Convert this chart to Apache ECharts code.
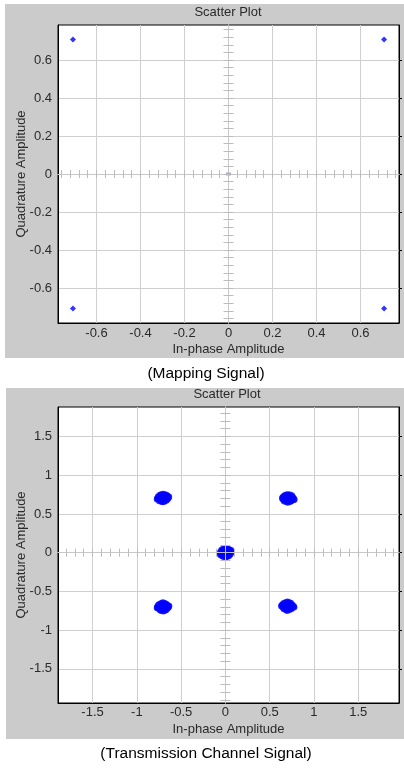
<!DOCTYPE html>
<html><head><meta charset="utf-8">
<script src="https://cdn.jsdelivr.net/npm/echarts@6/dist/echarts.min.js"></script>
<style>html,body{margin:0;padding:0;background:#fff}#c{width:404px;height:768px}</style>
</head><body><div id="c"></div>
<script>
// ---------- texts ----------
const chartTitle = 'Scatter Plot';
const xName = 'In-phase Amplitude';
const yName = 'Quadrature Amplitude';
const captions = ['(Mapping Signal)', '(Transmission Channel Signal)'];

// ---------- top: mapping signal ----------
const mapI = [-0.7071, 0.7071, -0.7071, 0.7071];
const mapQ = [0.7071, 0.7071, -0.7071, -0.7071];
const mapOriginI = [0];
const mapOriginQ = [0];
const mapTicks = [-0.6, -0.4, -0.2, 0, 0.2, 0.4, 0.6];
const mapXRange = [-0.775, 0.775];
const mapYRange = [-0.784, 0.784];
const mapMinorStep = 0.04;

// ---------- bottom: transmission channel signal ----------
const chTicks = [-1.5, -1, -0.5, 0, 0.5, 1, 1.5];
const chXRange = [-1.89, 1.96];
const chYRange = [-1.94, 1.88];
const chMinorStep = 0.1;

const clusterTL = [[-0.705,0.706],[-0.675,0.716],[-0.735,0.718],[-0.695,0.738],[-0.712,0.676],[-0.652,0.728],[-0.758,0.724],[-0.656,0.686],[-0.752,0.688],[-0.684,0.752],[-0.726,0.750],[-0.688,0.662],[-0.722,0.660],[-0.642,0.706],[-0.768,0.702],[-0.668,0.672],[-0.742,0.742],[-0.664,0.744],[-0.746,0.668],[-0.704,0.758],[-0.708,0.654],[-0.638,0.722],[-0.772,0.690]];
const clusterTR = [[0.707,0.700],[0.737,0.708],[0.677,0.712],[0.715,0.732],[0.697,0.670],[0.760,0.718],[0.655,0.722],[0.762,0.680],[0.654,0.684],[0.728,0.746],[0.686,0.748],[0.730,0.656],[0.690,0.656],[0.774,0.696],[0.642,0.700],[0.744,0.666],[0.668,0.738],[0.750,0.738],[0.664,0.664],[0.706,0.752],[0.704,0.648],[0.778,0.684],[0.646,0.712]];
const clusterBL = [[-0.705,-0.700],[-0.673,-0.694],[-0.737,-0.690],[-0.700,-0.668],[-0.710,-0.732],[-0.654,-0.680],[-0.758,-0.676],[-0.652,-0.718],[-0.756,-0.716],[-0.686,-0.652],[-0.724,-0.654],[-0.682,-0.746],[-0.726,-0.748],[-0.640,-0.700],[-0.770,-0.702],[-0.666,-0.736],[-0.744,-0.664],[-0.668,-0.662],[-0.742,-0.738],[-0.706,-0.644],[-0.702,-0.756],[-0.636,-0.688],[-0.772,-0.714]];
const clusterBR = [[0.700,-0.690],[0.732,-0.682],[0.668,-0.684],[0.708,-0.658],[0.694,-0.722],[0.754,-0.672],[0.648,-0.668],[0.756,-0.708],[0.650,-0.706],[0.718,-0.642],[0.680,-0.644],[0.722,-0.736],[0.682,-0.738],[0.770,-0.690],[0.632,-0.692],[0.744,-0.726],[0.658,-0.654],[0.738,-0.650],[0.660,-0.728],[0.700,-0.634],[0.698,-0.748],[0.776,-0.704],[0.636,-0.678]];
const clusterC = [[0.003,0.000],[0.033,0.010],[-0.027,0.012],[0.010,0.034],[-0.006,-0.032],[0.055,0.022],[-0.050,0.024],[0.056,-0.020],[-0.050,-0.022],[0.024,0.050],[-0.018,0.050],[0.026,-0.050],[-0.020,-0.052],[0.066,0.002],[-0.060,0.000],[0.042,-0.040],[-0.036,0.040],[0.044,0.042],[-0.038,-0.042],[0.002,0.058],[0.004,-0.058],[0.064,0.030],[-0.058,-0.028]];

// ---------- helpers ----------
function minorValues(range, step) {
  const out = [];
  const s = Math.ceil(range[0] / step - 1e-9), e = Math.floor(range[1] / step + 1e-9);
  for (let k = s; k <= e; k++) out.push(+(k * step).toFixed(4));
  return out;
}
const FONT = 'Liberation Sans, Arial, sans-serif';
const txt = { color: '#2a2a2a', fontSize: 13, fontFamily: FONT };

function mainX(g, range, ticks, margin) {
  return { type: 'value', gridIndex: g, position: 'bottom', min: range[0], max: range[1],
    name: xName, nameLocation: 'middle', nameGap: 20, nameTextStyle: txt, nameMoveOverlap: false,
    axisLine: { show: true, onZero: false, lineStyle: { color: '#000', width: 1 } },
    axisTick: { show: false, customValues: ticks },
    axisLabel: Object.assign({ customValues: ticks, margin: margin }, txt),
    splitLine: { show: true, lineStyle: { color: '#cfcfcf', width: 1 } } };
}
function mainY(g, range, ticks) {
  return { type: 'value', gridIndex: g, position: 'left', min: range[0], max: range[1],
    name: yName, nameLocation: 'middle', nameGap: 30, nameTextStyle: txt, nameMoveOverlap: false,
    axisLine: { show: true, onZero: false, lineStyle: { color: '#000', width: 1 } },
    axisTick: { show: false, customValues: ticks },
    axisLabel: Object.assign({ customValues: ticks, margin: 6 }, txt),
    splitLine: { show: true, lineStyle: { color: '#cfcfcf', width: 1 } } };
}
function frameY(g, range, ticks) {
  return { type: 'value', gridIndex: g, position: 'right', min: range[0], max: range[1],
    axisLine: { show: true, onZero: false, lineStyle: { color: '#000', width: 1 } },
    axisTick: { show: true, customValues: ticks, length: 3, lineStyle: { color: '#000' } },
    axisLabel: { show: false }, splitLine: { show: false } };
}
function zeroX(g, range, minor, pos, yIdx) {
  return { type: 'value', gridIndex: g, position: pos, min: range[0], max: range[1], z: 3,
    axisLine: { show: true, onZero: true, onZeroAxisIndex: yIdx, lineStyle: { color: '#c8c8c8', width: 1 } },
    axisTick: { show: true, customValues: minor, length: 4, lineStyle: { color: '#bcbcbc', width: 1 } },
    axisLabel: { show: false }, splitLine: { show: false } };
}
function zeroY(g, range, minor, pos, xIdx) {
  return { type: 'value', gridIndex: g, position: pos, min: range[0], max: range[1], z: 3,
    axisLine: { show: true, onZero: true, onZeroAxisIndex: xIdx, lineStyle: { color: '#c8c8c8', width: 1 } },
    axisTick: { show: true, customValues: minor, length: 5, lineStyle: { color: '#bcbcbc', width: 1 } },
    axisLabel: { show: false }, splitLine: { show: false } };
}

const mapXMinor = minorValues(mapXRange, mapMinorStep);
const mapYMinor = minorValues(mapYRange, mapMinorStep);
const chXMinor = minorValues(chXRange, chMinorStep);
const chYMinor = minorValues(chYRange, chMinorStep);

const zip = (a, b) => a.map((v, i) => [v, b[i]]);

const option = {
  animation: false,
  backgroundColor: '#ffffff',
  graphic: [
    { type: 'rect', shape: { x: 5, y: 4, width: 399, height: 354 }, style: { fill: '#cbcbcb' }, z: -10, silent: true },
    { type: 'rect', shape: { x: 6, y: 388, width: 398, height: 351 }, style: { fill: '#cbcbcb' }, z: -10, silent: true },
    { type: 'text', x: 228, y: 12, z: 10, style: { text: chartTitle, fill: '#2a2a2a', font: '13px ' + FONT, textAlign: 'center', textVerticalAlign: 'middle' } },
    { type: 'text', x: 227, y: 394, z: 10, style: { text: chartTitle, fill: '#2a2a2a', font: '13px ' + FONT, textAlign: 'center', textVerticalAlign: 'middle' } },
    { type: 'text', x: 206, y: 374, z: 10, style: { text: captions[0], fill: '#000', font: '15.5px ' + FONT, textAlign: 'center', textVerticalAlign: 'middle' } },
    { type: 'text', x: 206, y: 754, z: 10, style: { text: captions[1], fill: '#000', font: '15.5px ' + FONT, textAlign: 'center', textVerticalAlign: 'middle' } }
  ],
  grid: [
    { left: 58, top: 25, width: 341, height: 298, show: true, backgroundColor: '#fff', borderColor: '#000', borderWidth: 1, containLabel: false, outerBoundsMode: 'none' },
    { left: 58, top: 407, width: 341, height: 296, show: true, backgroundColor: '#fff', borderColor: '#000', borderWidth: 1, containLabel: false, outerBoundsMode: 'none' }
  ],
  xAxis: [
    mainX(0, mapXRange, mapTicks, 4),
    zeroX(0, mapXRange, mapXMinor, 'bottom', 0),
    zeroX(0, mapXRange, mapXMinor, 'top', 0),
    mainX(1, chXRange, chTicks, 3),
    zeroX(1, chXRange, chXMinor, 'bottom', 4),
    zeroX(1, chXRange, chXMinor, 'top', 4)
  ],
  yAxis: [
    mainY(0, mapYRange, mapTicks),
    zeroY(0, mapYRange, mapYMinor, 'left', 0),
    zeroY(0, mapYRange, mapYMinor, 'right', 0),
    frameY(0, mapYRange, mapTicks),
    mainY(1, chYRange, chTicks),
    zeroY(1, chYRange, chYMinor, 'left', 3),
    zeroY(1, chYRange, chYMinor, 'right', 3),
    frameY(1, chYRange, chTicks)
  ],
  series: [
    { type: 'scatter', name: 'origin', xAxisIndex: 0, yAxisIndex: 0, data: zip(mapOriginI, mapOriginQ),
      symbol: 'rect', symbolSize: [5, 3], itemStyle: { color: '#8c8cf0' }, silent: true },
    { type: 'scatter', name: 'mapping', xAxisIndex: 0, yAxisIndex: 0, data: zip(mapI, mapQ),
      symbol: 'diamond', symbolSize: 6, itemStyle: { color: '#0000ff' }, silent: true },
    { type: 'scatter', name: 'channel', xAxisIndex: 3, yAxisIndex: 4,
      data: [].concat(clusterTL, clusterTR, clusterBL, clusterBR, clusterC),
      symbol: 'circle', symbolSize: 6.5, itemStyle: { color: '#0000ff' }, silent: true, large: false }
  ]
};
const chart = echarts.init(document.getElementById('c'), null, { renderer: 'canvas' });
chart.setOption(option);
</script>
</body></html>
